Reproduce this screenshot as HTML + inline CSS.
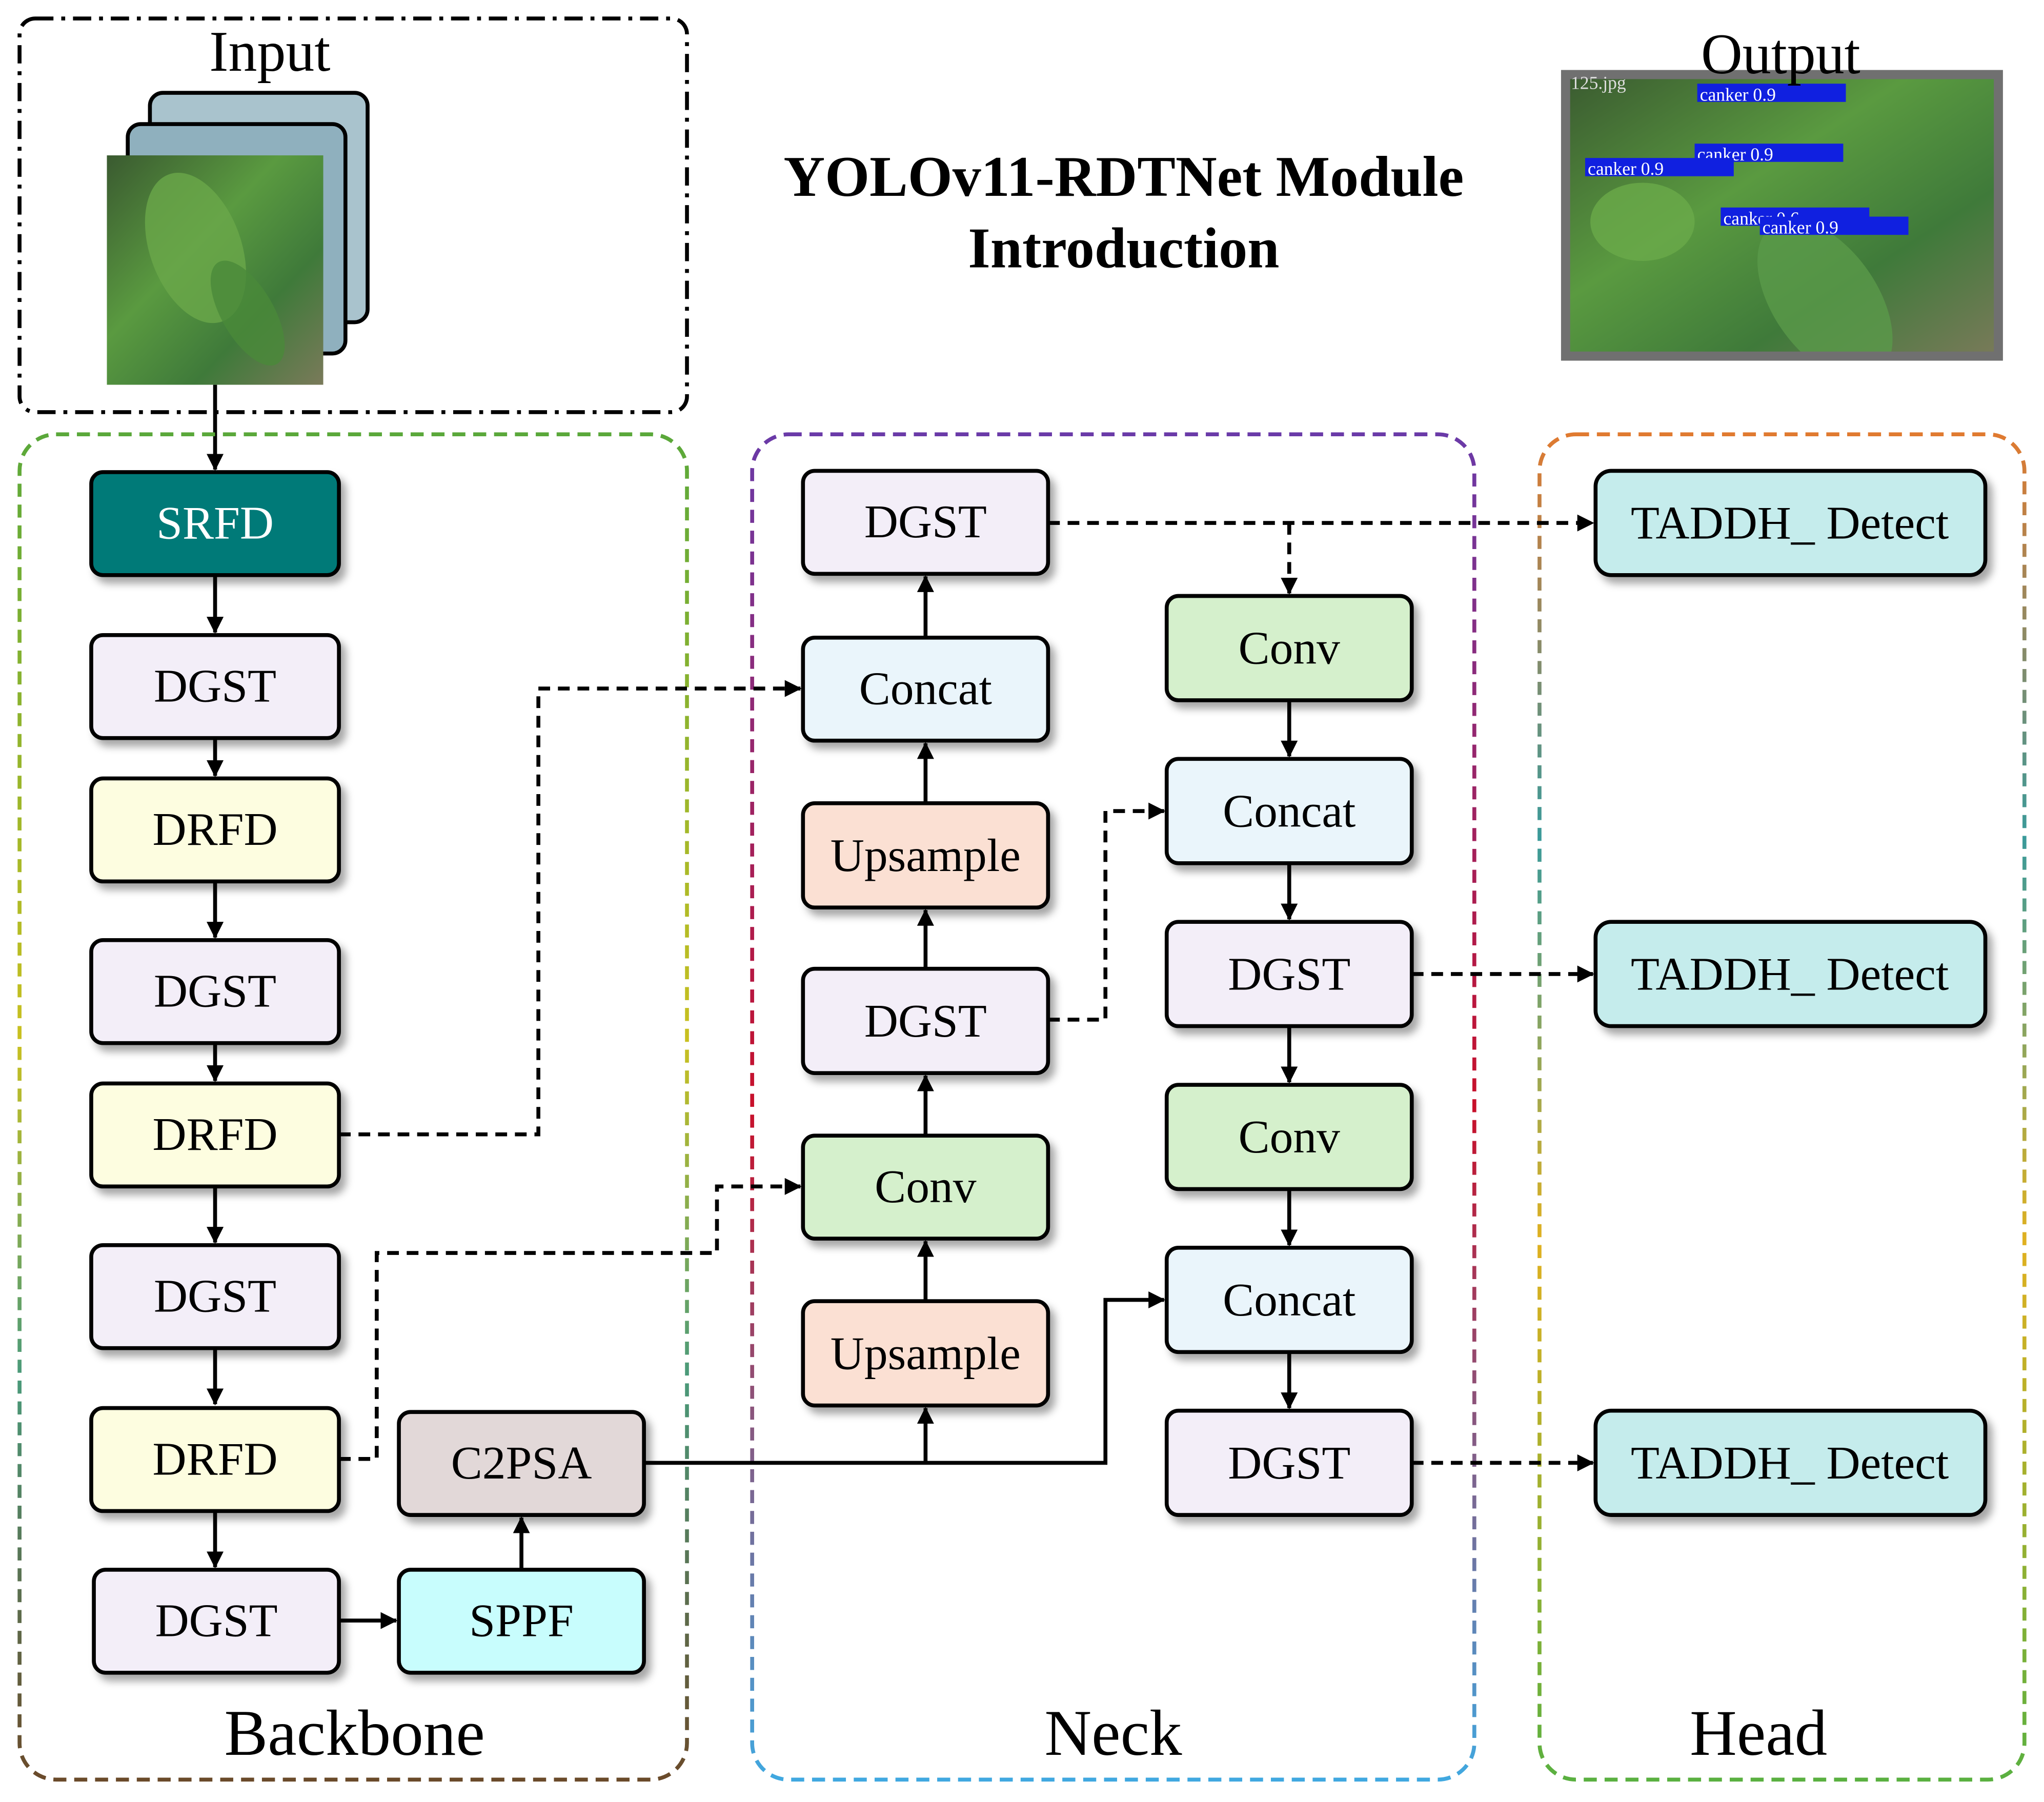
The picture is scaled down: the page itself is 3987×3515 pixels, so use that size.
<!DOCTYPE html>
<html><head><meta charset="utf-8"><style>
html,body{margin:0;padding:0;background:#fff}
svg{display:block}
text{font-family:"Liberation Serif",serif}
</style></head><body>
<svg width="3987" height="3515" viewBox="0 0 1568 1382" xmlns="http://www.w3.org/2000/svg">
<defs>
<filter id="sh" x="-20%" y="-20%" width="150%" height="160%"><feDropShadow dx="4" dy="5" stdDeviation="3" flood-color="#000" flood-opacity="0.35"/></filter>
<marker id="ar" markerWidth="13" markerHeight="13" refX="12" refY="6.5" orient="auto" markerUnits="userSpaceOnUse"><path d="M0,0 L13,6.5 L0,13 z" fill="#000"/></marker>
<linearGradient id="gb" x1="0" y1="0" x2="0" y2="1"><stop offset="0" stop-color="#5aa83a"/><stop offset="0.45" stop-color="#c9c020"/><stop offset="0.7" stop-color="#4a9a7a"/><stop offset="1" stop-color="#6a4a2a"/></linearGradient>
<linearGradient id="gn" x1="0" y1="0" x2="0" y2="1"><stop offset="0" stop-color="#6a3aa8"/><stop offset="0.5" stop-color="#c8102a"/><stop offset="1" stop-color="#40a8e0"/></linearGradient>
<linearGradient id="gh" x1="0" y1="0" x2="0" y2="1"><stop offset="0" stop-color="#e07a30"/><stop offset="0.3" stop-color="#3a9a9a"/><stop offset="0.6" stop-color="#e0b020"/><stop offset="1" stop-color="#5ab040"/></linearGradient>
<linearGradient id="leaf" x1="0" y1="0" x2="1" y2="1"><stop offset="0" stop-color="#3a5a30"/><stop offset="0.4" stop-color="#5a9a40"/><stop offset="0.7" stop-color="#3f7a3a"/><stop offset="1" stop-color="#7a7a5a"/></linearGradient>
<clipPath id="c1"><rect x="82" y="119" width="166" height="176"/></clipPath>
<clipPath id="c2"><rect x="1201" y="57" width="332" height="216"/></clipPath>
</defs>

<!-- Input box -->
<rect x="15" y="14" width="512" height="302" rx="12" fill="none" stroke="#000" stroke-width="3" stroke-dasharray="14,6,3,6"/>
<text x="207" y="54" font-size="44" text-anchor="middle">Input</text>
<rect x="115" y="71" width="167" height="176" rx="10" fill="#a9c3cd" stroke="#000" stroke-width="3"/>
<rect x="98" y="95" width="167" height="176" rx="10" fill="#8fb0be" stroke="#000" stroke-width="3"/>
<g clip-path="url(#c1)">
<rect x="82" y="119" width="166" height="176" fill="url(#leaf)"/>
<ellipse cx="150" cy="190" rx="35" ry="60" fill="#6aa84a" transform="rotate(-20 150 190)" opacity="0.8"/>
<ellipse cx="190" cy="240" rx="20" ry="45" fill="#4a8a3a" transform="rotate(-30 190 240)" opacity="0.8"/>
</g>
<line x1="165" y1="295" x2="165" y2="360" stroke="#000" stroke-width="3" marker-end="url(#ar)"/>

<!-- Title -->
<text x="862" y="150" font-size="44" font-weight="bold" text-anchor="middle">YOLOv11-RDTNet Module</text>
<text x="862" y="205" font-size="44" font-weight="bold" text-anchor="middle">Introduction</text>

<!-- Output -->
<g clip-path="url(#c2)">
<rect x="1201" y="57" width="332" height="216" fill="url(#leaf)"/>
<ellipse cx="1400" cy="230" rx="40" ry="70" fill="#5a9a4a" transform="rotate(-35 1400 230)" opacity="0.8"/>
<ellipse cx="1260" cy="170" rx="40" ry="30" fill="#6aaa4a" opacity="0.8"/>
</g>
<rect x="1201" y="57" width="332" height="216" fill="none" stroke="#707070" stroke-width="7"/>
<rect x="1302" y="64" width="114" height="14" fill="#1020e0"/><text x="1304" y="77" font-size="14" fill="#fff" font-family="Liberation Sans">canker 0.9</text>
<rect x="1300" y="110" width="114" height="14" fill="#1020e0"/><text x="1302" y="123" font-size="14" fill="#fff" font-family="Liberation Sans">canker 0.9</text>
<rect x="1216" y="121" width="114" height="14" fill="#1020e0"/><text x="1218" y="134" font-size="14" fill="#fff" font-family="Liberation Sans">canker 0.9</text>
<rect x="1320" y="159" width="114" height="14" fill="#1020e0"/><text x="1322" y="172" font-size="14" fill="#fff" font-family="Liberation Sans">canker 0.6</text>
<rect x="1350" y="166" width="114" height="14" fill="#1020e0"/><text x="1352" y="179" font-size="14" fill="#fff" font-family="Liberation Sans">canker 0.9</text>
<text x="1205" y="68" font-size="14" fill="#ddd" font-family="Liberation Sans">125.jpg</text>
<text x="1366" y="56" font-size="44" text-anchor="middle">Output</text>

<!-- Group boxes -->
<rect x="15" y="333" width="512" height="1032" rx="28" fill="none" stroke="url(#gb)" stroke-width="3" stroke-dasharray="10,6"/>
<rect x="577" y="333" width="554" height="1032" rx="28" fill="none" stroke="url(#gn)" stroke-width="3" stroke-dasharray="10,6"/>
<rect x="1181" y="333" width="372" height="1032" rx="28" fill="none" stroke="url(#gh)" stroke-width="3" stroke-dasharray="10,6"/>
<text x="272" y="1346" font-size="50" text-anchor="middle">Backbone</text>
<text x="854" y="1346" font-size="50" text-anchor="middle">Neck</text>
<text x="1349" y="1346" font-size="50" text-anchor="middle">Head</text>

<!-- connectors -->
<g stroke="#000" stroke-width="3" fill="none">
<line x1="165" y1="441" x2="165" y2="485" marker-end="url(#ar)"/>
<line x1="165" y1="566" x2="165" y2="595" marker-end="url(#ar)"/>
<line x1="165" y1="676" x2="165" y2="719" marker-end="url(#ar)"/>
<line x1="165" y1="800" x2="165" y2="829" marker-end="url(#ar)"/>
<line x1="165" y1="910" x2="165" y2="953" marker-end="url(#ar)"/>
<line x1="165" y1="1034" x2="165" y2="1077" marker-end="url(#ar)"/>
<line x1="165" y1="1159" x2="165" y2="1202" marker-end="url(#ar)"/>
<line x1="260" y1="1243" x2="304" y2="1243" marker-end="url(#ar)"/>
<line x1="400" y1="1204" x2="400" y2="1164" marker-end="url(#ar)"/>
<polyline points="494,1122 848,1122 848,997 893,997" marker-end="url(#ar)"/>
<line x1="710" y1="1122" x2="710" y2="1080" marker-end="url(#ar)"/>
<line x1="710" y1="998" x2="710" y2="952" marker-end="url(#ar)"/>
<line x1="710" y1="871" x2="710" y2="825" marker-end="url(#ar)"/>
<line x1="710" y1="743" x2="710" y2="698" marker-end="url(#ar)"/>
<line x1="710" y1="616" x2="710" y2="570" marker-end="url(#ar)"/>
<line x1="710" y1="489" x2="710" y2="442" marker-end="url(#ar)"/>
<line x1="989" y1="537" x2="989" y2="580" marker-end="url(#ar)"/>
<line x1="989" y1="662" x2="989" y2="705" marker-end="url(#ar)"/>
<line x1="989" y1="787" x2="989" y2="830" marker-end="url(#ar)"/>
<line x1="989" y1="912" x2="989" y2="955" marker-end="url(#ar)"/>
<line x1="989" y1="1037" x2="989" y2="1080" marker-end="url(#ar)"/>
</g>
<g stroke="#000" stroke-width="3" fill="none" stroke-dasharray="9,6">
<polyline points="260,870 413,870 413,528 614,528" marker-end="url(#ar)"/>
<polyline points="260,1119 289,1119 289,961 550,961 550,910 614,910" marker-end="url(#ar)"/>
<polyline points="804,782 848,782 848,622 893,622" marker-end="url(#ar)"/>
<polyline points="804,401 1222,401" marker-end="url(#ar)"/>
<polyline points="989,401 989,455" marker-end="url(#ar)"/>
<polyline points="1083,747 1222,747" marker-end="url(#ar)"/>
<polyline points="1083,1122 1222,1122" marker-end="url(#ar)"/>
</g>

<!-- nodes -->
<g stroke="#000" stroke-width="3" filter="url(#sh)">
<rect x="70" y="362" width="190" height="79" rx="9" fill="#007a78"/>
<rect x="70" y="487" width="190" height="79" rx="9" fill="#f3eef8"/>
<rect x="70" y="597" width="190" height="79" rx="9" fill="#fdfde0"/>
<rect x="70" y="721" width="190" height="79" rx="9" fill="#f3eef8"/>
<rect x="70" y="831" width="190" height="79" rx="9" fill="#fdfde0"/>
<rect x="70" y="955" width="190" height="79" rx="9" fill="#f3eef8"/>
<rect x="70" y="1080" width="190" height="79" rx="9" fill="#fdfde0"/>
<rect x="72" y="1204" width="188" height="79" rx="9" fill="#f3eef8"/>
<rect x="306" y="1204" width="188" height="79" rx="9" fill="#c8fdfd"/>
<rect x="306" y="1083" width="188" height="79" rx="9" fill="#e2d8d8"/>
<rect x="616" y="361" width="188" height="79" rx="9" fill="#f3eef8"/>
<rect x="616" y="489" width="188" height="79" rx="9" fill="#eaf5fb"/>
<rect x="616" y="616" width="188" height="80" rx="9" fill="#fbe0d3"/>
<rect x="616" y="743" width="188" height="80" rx="9" fill="#f3eef8"/>
<rect x="616" y="871" width="188" height="79" rx="9" fill="#d5f0cc"/>
<rect x="616" y="998" width="188" height="80" rx="9" fill="#fbe0d3"/>
<rect x="895" y="457" width="188" height="80" rx="9" fill="#d5f0cc"/>
<rect x="895" y="582" width="188" height="80" rx="9" fill="#eaf5fb"/>
<rect x="895" y="707" width="188" height="80" rx="9" fill="#f3eef8"/>
<rect x="895" y="832" width="188" height="80" rx="9" fill="#d5f0cc"/>
<rect x="895" y="957" width="188" height="80" rx="9" fill="#eaf5fb"/>
<rect x="895" y="1082" width="188" height="80" rx="9" fill="#f3eef8"/>
<rect x="1224" y="361" width="299" height="80" rx="12" fill="#c5ecec"/>
<rect x="1224" y="707" width="299" height="80" rx="12" fill="#c5ecec"/>
<rect x="1224" y="1082" width="299" height="80" rx="12" fill="#c5ecec"/>
</g>
<g font-size="36" text-anchor="middle">
<text x="165" y="413" fill="#fff">SRFD</text>
<text x="165" y="538">DGST</text>
<text x="165" y="648">DRFD</text>
<text x="165" y="772">DGST</text>
<text x="165" y="882">DRFD</text>
<text x="165" y="1006">DGST</text>
<text x="165" y="1131">DRFD</text>
<text x="166" y="1255">DGST</text>
<text x="400" y="1255">SPPF</text>
<text x="400" y="1134">C2PSA</text>
<text x="710" y="412">DGST</text>
<text x="710" y="540">Concat</text>
<text x="710" y="668">Upsample</text>
<text x="710" y="795">DGST</text>
<text x="710" y="922">Conv</text>
<text x="710" y="1050">Upsample</text>
<text x="989" y="509">Conv</text>
<text x="989" y="634">Concat</text>
<text x="989" y="759">DGST</text>
<text x="989" y="884">Conv</text>
<text x="989" y="1009">Concat</text>
<text x="989" y="1134">DGST</text>
<text x="1373" y="413">TADDH_ Detect</text>
<text x="1373" y="759">TADDH_ Detect</text>
<text x="1373" y="1134">TADDH_ Detect</text>
</g>
</svg>
</body></html>
